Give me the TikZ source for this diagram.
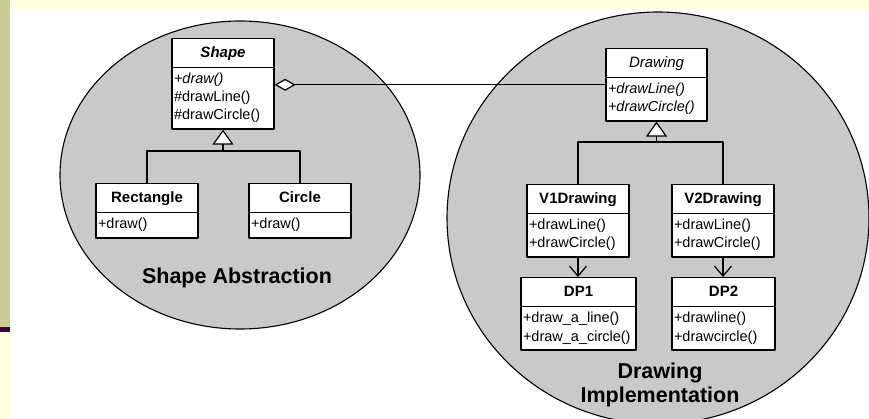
\documentclass[tikz,border=0pt]{standalone}
\usepackage{fontspec}
\setmainfont{Liberation Sans}
\usepackage{tikz}
\usetikzlibrary{arrows.meta,shapes.multipart}

\definecolor{slidebg}{RGB}{255,255,226}
\definecolor{slidebar}{RGB}{204,204,150}
\definecolor{slideplum}{RGB}{60,0,60}
\definecolor{blobgray}{RGB}{201,201,201}

\newcommand{\methfont}{\fontsize{14.5}{18}\selectfont}
\newcommand{\clsname}[1]{{\fontsize{15}{22}\selectfont\strut#1}}
\newcommand{\meth}[1]{\strut#1}

\begin{document}
\begin{tikzpicture}[x=1pt,y=-1pt,line cap=round,line join=round,
    cls/.style={draw,fill=white,line width=1.2pt,rectangle split,
      rectangle split parts=2,rectangle split part align={center,left},
      align=left,minimum width=#1,inner xsep=2pt,inner ysep=3pt,
      anchor=north,font=\methfont},
    conn/.style={line width=1.2pt},
    inherit/.style={conn,-{Triangle[open,fill=white,length=15pt,width=21pt]}},
    aggr/.style={conn,{Diamond[open,fill=white,length=21pt,width=12pt]}-},
    uses/.style={conn,-{Straight Barb[length=10pt,width=17pt]}},
    blob/.style={draw,fill=blobgray,line width=1.1pt},
    caption/.style={font=\fontsize{21.5}{24}\selectfont\bfseries,align=center}]
    \useasboundingbox (0,0) rectangle (869,419);
    \clip (0,0) rectangle (869,419);

    % Slide background.
    \fill[slidebg] (0,0) rectangle (869,419);
    \fill[white] (10,9) rectangle (869,419);
    \fill[slidebar] (0,0) rectangle (10,327);
    \fill[slideplum] (0,327) rectangle (10,332);

    % The two groups.
    \draw[blob] (240,175) ellipse (180 and 154);
    \draw[blob] (658,218) ellipse (211 and 206);

    % Abstraction side.
    \node[cls=102pt] (shape) at (223,38)
      {\clsname{\textbf{\textit{Shape}}}
       \nodepart{two}\meth{\textit{+draw()}}\\\meth{\#drawLine()}\\\meth{\#drawCircle()}};
    \node[cls=102pt] (rect) at (147,183)
      {\clsname{\textbf{Rectangle}}\nodepart{two}\meth{+draw()}};
    \node[cls=102pt] (circ) at (300,183)
      {\clsname{\textbf{Circle}}\nodepart{two}\meth{+draw()}};
    \coordinate (sj) at (223,151);
    \draw[conn] (rect.north) |- (sj) -| (circ.north);
    \draw[inherit] (sj) -- (shape.south);
    \node[caption] (abslabel) at (237,278) {Shape Abstraction};

    % Implementation side.
    \node[cls=101pt] (drawing) at (656.5,48)
      {\clsname{\textit{Drawing}}
       \nodepart{two}\meth{\textit{+drawLine()}}\\\meth{\textit{+drawCircle()}}};
    \node[cls=102pt] (vone) at (578,184)
      {\clsname{\textbf{V1Drawing}}
       \nodepart{two}\meth{+drawLine()}\\\meth{+drawCircle()}};
    \node[cls=102pt] (vtwo) at (723,184)
      {\clsname{\textbf{V2Drawing}}
       \nodepart{two}\meth{+drawLine()}\\\meth{+drawCircle()}};
    \node[cls=115pt] (dpone) at (578.5,277)
      {\clsname{\textbf{DP1}}
       \nodepart{two}\meth{+draw\_a\_line()}\\\meth{+draw\_a\_circle()}};
    \node[cls=103pt] (dptwo) at (723.5,277)
      {\clsname{\textbf{DP2}}
       \nodepart{two}\meth{+drawline()}\\\meth{+drawcircle()}};
    \coordinate (dj) at (656.5,142);
    \draw[conn] (vone.north) |- (dj) -| (vtwo.north);
    \draw[inherit] (dj) -- (drawing.south);
    \draw[uses] (vone.south) -- (vone.south |- dpone.north);
    \draw[uses] (vtwo.south) -- (vtwo.south |- dptwo.north);
    \node[caption] (implabel) at (660,385) {Drawing\\Implementation};

    % Bridge between the two.
    \draw[aggr] (shape.east |- drawing.west) -- (drawing.west);
  \end{tikzpicture}
\end{document}
